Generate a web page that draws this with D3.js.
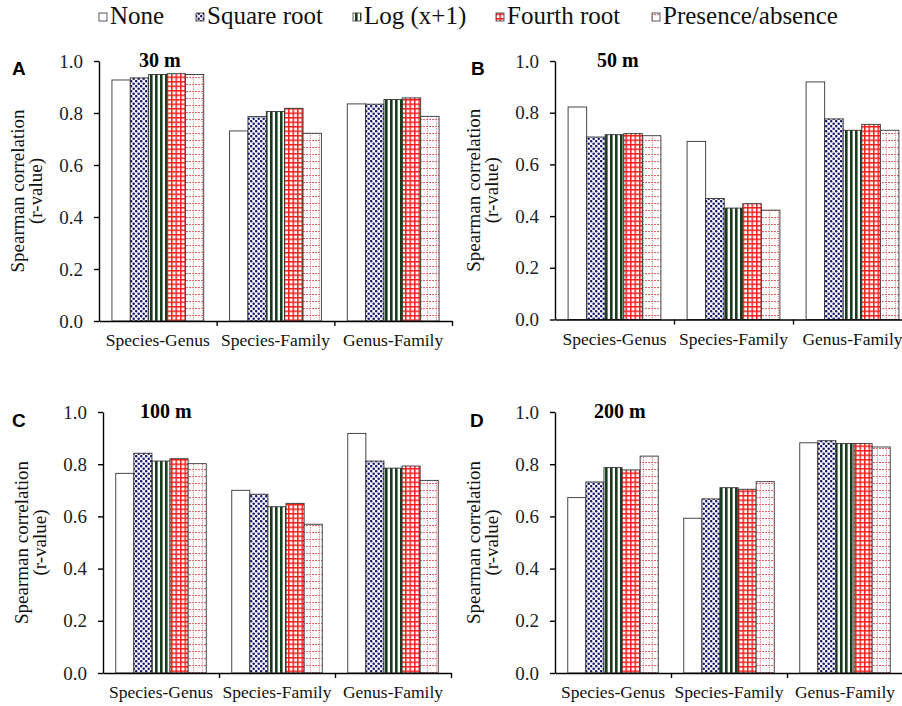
<!DOCTYPE html>
<html><head><meta charset="utf-8">
<script src="https://cdn.jsdelivr.net/npm/d3@7"></script>
<style>
html,body{margin:0;padding:0;background:#fff;}
svg{display:block;}
</style></head>
<body>
<svg id="chart" width="902" height="706"></svg>
<script>
// ---- data ----
const categories = ["Species-Genus", "Species-Family", "Genus-Family"];
const seriesNames = ["None", "Square root", "Log (x+1)", "Fourth root", "Presence/absence"];
const tickValues = [0, 0.2, 0.4, 0.6, 0.8, 1.0];
const panelLabels = ["A", "B", "C", "D"];
const panelTitles = ["30 m", "50 m", "100 m", "200 m"];
// rows = categories, columns = series
const values30m  = [[0.927, 0.935, 0.948, 0.951, 0.948], [0.731, 0.786, 0.806, 0.818, 0.722], [0.835, 0.834, 0.852, 0.858, 0.787]];
const values50m  = [[0.822, 0.706, 0.715, 0.719, 0.711], [0.689, 0.468, 0.431, 0.448, 0.423], [0.919, 0.776, 0.732, 0.755, 0.732]];
const values100m = [[0.765, 0.842, 0.812, 0.821, 0.802], [0.700, 0.685, 0.637, 0.650, 0.570], [0.918, 0.812, 0.785, 0.793, 0.738]];
const values200m = [[0.672, 0.732, 0.787, 0.778, 0.831], [0.593, 0.667, 0.710, 0.704, 0.733], [0.882, 0.890, 0.879, 0.879, 0.866]];
const panelValues = [values30m, values50m, values100m, values200m];

// ---- layout ----
const layout = [
  {x0: 99,  x1: 452, yBot: 321,   yTop: 61,  lx: 12,  ly: 75},
  {x0: 555, x1: 912, yBot: 319.5, yTop: 61,  lx: 471, ly: 75},
  {x0: 103, x1: 451, yBot: 673,   yTop: 412, lx: 12,  ly: 427},
  {x0: 555, x1: 903, yBot: 673,   yTop: 412, lx: 470, ly: 427}
];
const titlePos = [{x: 139, y: 67}, {x: 597, y: 67}, {x: 140, y: 418}, {x: 594, y: 418}];
const SERIF = '"Liberation Serif","Times New Roman",serif';
const SANS = '"Liberation Sans",Arial,sans-serif';

const svg = d3.select("#chart");
svg.append("rect").attr("width", 902).attr("height", 706).attr("fill", "#fff");

// ---- patterns ----
const defs = svg.append("defs");
const pDots = defs.append("pattern").attr("id", "p1").attr("patternUnits", "userSpaceOnUse").attr("width", 5).attr("height", 5);
pDots.append("rect").attr("width", 5).attr("height", 5).attr("fill", "#fff");
pDots.append("circle").attr("cx", 1.2).attr("cy", 1.2).attr("r", 1.3).attr("fill", "#1c1c6e");
pDots.append("circle").attr("cx", 3.7).attr("cy", 3.7).attr("r", 1.3).attr("fill", "#1c1c6e");
const pStr = defs.append("pattern").attr("id", "p2").attr("patternUnits", "userSpaceOnUse").attr("width", 5).attr("height", 5);
pStr.append("rect").attr("width", 5).attr("height", 5).attr("fill", "#fff");
pStr.append("rect").attr("x", 0).attr("width", 2.6).attr("height", 5).attr("fill", "#173d1c");
const pGrid = defs.append("pattern").attr("id", "p3").attr("patternUnits", "userSpaceOnUse").attr("width", 4.5).attr("height", 4.5);
pGrid.append("rect").attr("width", 4.5).attr("height", 4.5).attr("fill", "#fff");
pGrid.append("rect").attr("width", 1.5).attr("height", 4.5).attr("fill", "#f5201e");
pGrid.append("rect").attr("width", 4.5).attr("height", 1.5).attr("fill", "#f5201e");
const pPres = defs.append("pattern").attr("id", "p4").attr("patternUnits", "userSpaceOnUse").attr("width", 9).attr("height", 7);
pPres.append("rect").attr("width", 9).attr("height", 7).attr("fill", "#fff");
pPres.append("line").attr("x1", 0).attr("x2", 9).attr("y1", 0.6).attr("y2", 0.6)
  .attr("stroke", "#d85858").attr("stroke-width", 1).attr("stroke-dasharray", "2,1");
pPres.append("line").attr("x1", 4.5).attr("x2", 4.5).attr("y1", 0).attr("y2", 7)
  .attr("stroke", "#dd6a6a").attr("stroke-width", 1).attr("stroke-dasharray", "1,1.2");

const fills = ["#fff", "url(#p1)", "url(#p2)", "url(#p3)", "url(#p4)"];
const colorScale = d3.scaleOrdinal().domain(seriesNames).range(fills);

// ---- legend ----
const legendX = [99, 196, 353, 496, 652];
const lg = svg.append("g");
seriesNames.forEach((s, i) => {
  lg.append("rect").attr("x", legendX[i]).attr("y", 13).attr("width", 8).attr("height", 8)
    .attr("fill", colorScale(s)).attr("stroke", "#333").attr("stroke-width", 0.8);
  lg.append("text").attr("x", legendX[i] + 11).attr("y", 24)
    .style("font-family", SERIF).style("font-size", "25px")
    .attr("fill", "#111").text(s);
});

// ---- panels ----
panelValues.forEach((vals, pi) => {
  const L = layout[pi];
  const g = svg.append("g");
  const y = d3.scaleLinear().domain([0, 1]).range([L.yBot, L.yTop]);
  const x0 = d3.scaleBand().domain(categories).range([L.x0, L.x1]).paddingInner(0.22).paddingOuter(0.11);
  const x1 = d3.scaleBand().domain(seriesNames).range([0, x0.bandwidth()]);

  categories.forEach((c, ci) => {
    g.selectAll(null).data(seriesNames.map((s, si) => ({s, v: vals[ci][si]})))
      .enter().append("rect")
      .attr("x", d => x0(c) + x1(d.s))
      .attr("y", d => y(d.v))
      .attr("width", x1.bandwidth())
      .attr("height", d => y(0) - y(d.v))
      .attr("fill", d => colorScale(d.s))
      .attr("stroke", "#333").attr("stroke-width", 0.9);
  });

  const ya = g.append("g").attr("transform", `translate(${L.x0},0)`)
    .call(d3.axisLeft(y).tickValues(tickValues).tickFormat(d3.format(".1f")).tickSize(5).tickPadding(11).tickSizeOuter(0));
  ya.attr("font-family", null).attr("font-size", null);
  ya.select(".domain").attr("stroke", "#000").attr("stroke-width", 1.4);
  ya.selectAll(".tick line").attr("stroke", "#000").attr("stroke-width", 1.4);
  ya.selectAll(".tick text").style("font-family", SERIF).style("font-size", "19px").attr("fill", "#222");

  const xb = d3.scaleLinear().domain([0, categories.length]).range([L.x0, L.x1]);
  const xa = g.append("g").attr("transform", `translate(0,${L.yBot})`)
    .call(d3.axisBottom(xb).tickValues([1, 2, 3]).tickFormat("").tickSize(5).tickSizeOuter(0));
  xa.select(".domain").attr("stroke", "#000").attr("stroke-width", 1.4);
  xa.selectAll(".tick line").attr("stroke", "#000").attr("stroke-width", 1.4);

  g.selectAll(null).data(categories).enter().append("text")
    .attr("x", d => x0(d) + x0.bandwidth() / 2)
    .attr("y", L.yBot + 25)
    .attr("text-anchor", "middle")
    .style("font-family", SERIF).style("font-size", "17.5px")
    .attr("fill", "#111").text(d => d);

  const yc = (L.yBot + L.yTop) / 2;
  const tx = L.x0 - 75;
  g.append("text").attr("transform", `translate(${tx},${yc}) rotate(-90)`)
    .attr("text-anchor", "middle")
    .style("font-family", SERIF).style("font-size", "19px")
    .attr("fill", "#111").text("Spearman correlation");
  g.append("text").attr("transform", `translate(${tx + 18},${yc}) rotate(-90)`)
    .attr("text-anchor", "middle")
    .style("font-family", SERIF).style("font-size", "19px")
    .attr("fill", "#111").text("(r-value)");

  g.append("text").attr("x", L.lx).attr("y", L.ly)
    .style("font-family", SANS).style("font-weight", "bold").style("font-size", "19px")
    .attr("fill", "#000").text(panelLabels[pi]);

  g.append("text").attr("x", titlePos[pi].x).attr("y", titlePos[pi].y)
    .style("font-family", SERIF).style("font-weight", "bold").style("font-size", "20px")
    .attr("fill", "#000").text(panelTitles[pi]);
});
</script>
</body></html>
